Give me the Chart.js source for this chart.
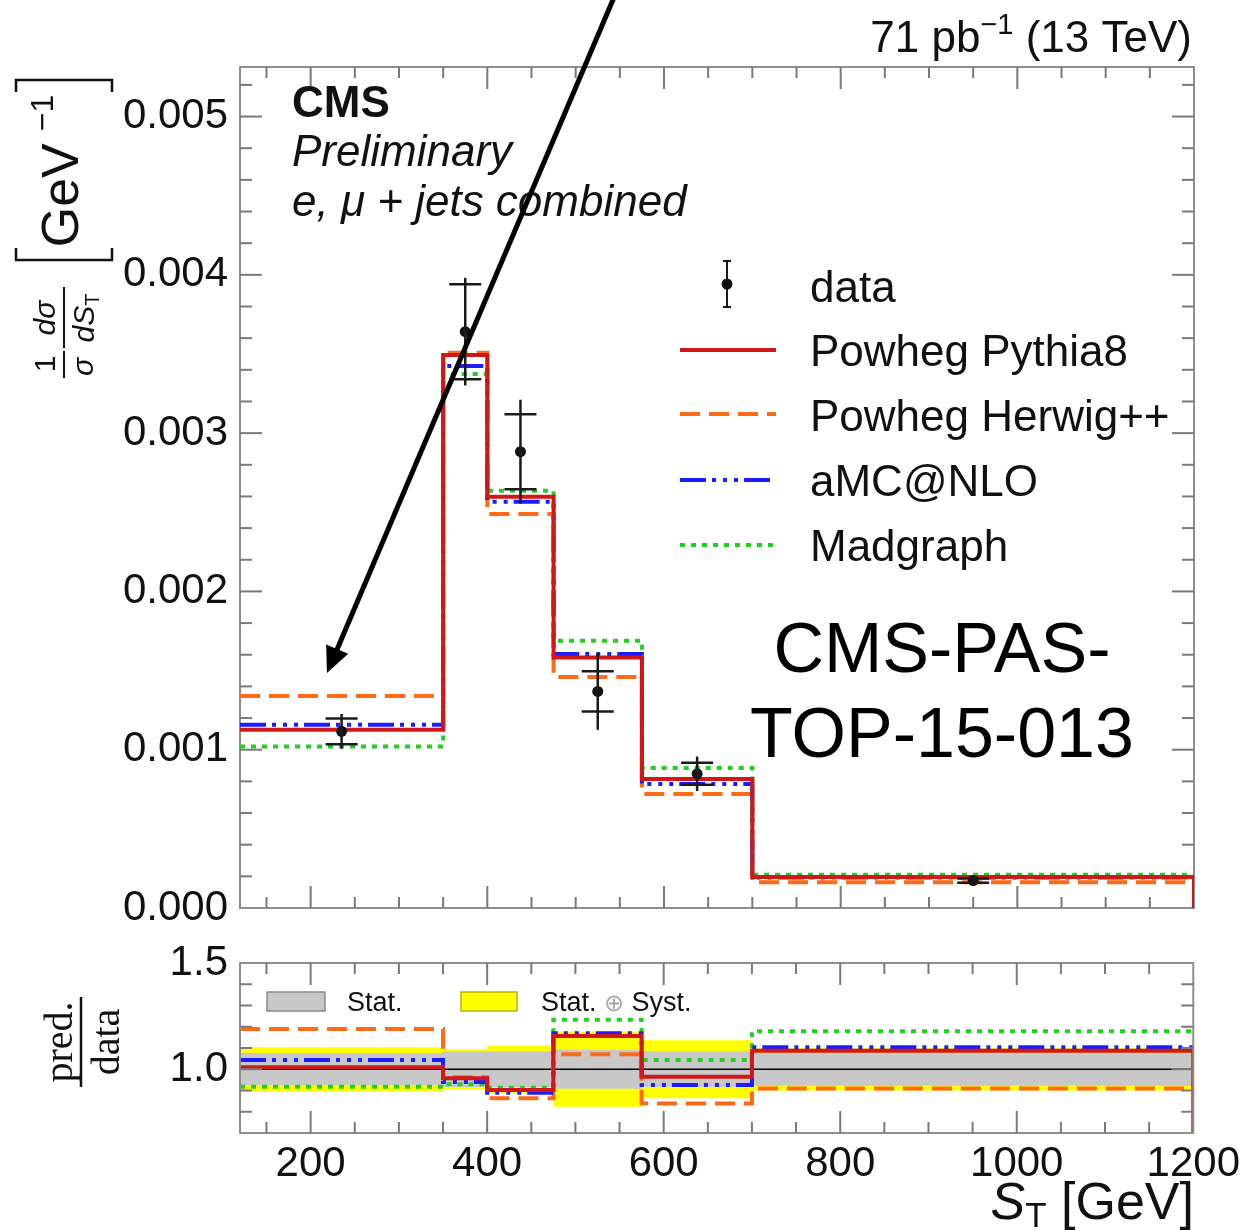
<!DOCTYPE html>
<html>
<head>
<meta charset="utf-8">
<title>CMS S_T normalized differential cross section</title>
<script src="https://cdn.jsdelivr.net/npm/chart.js@4.4.1/dist/chart.umd.min.js"></script>
<style>
  html, body { margin: 0; padding: 0; background: #fff; }
  #wrap { position: relative; width: 1246px; height: 1230px; overflow: hidden; background: #fff; }
  #mainChart { position: absolute; left: 0; top: 0; }
  #ratioChart { position: absolute; left: 0; top: 920px; }
</style>
</head>
<body>
<div id="wrap">
  <canvas id="mainChart" width="1246" height="950"></canvas>
  <canvas id="ratioChart" width="1246" height="310"></canvas>
</div>
<script>
// bins in S_T [GeV]
const binEdges = [120, 350, 400, 475, 575, 700, 1200];
const binCenters = [235, 375, 437.5, 525, 637.5, 950];

// 1/sigma dsigma/dS_T [GeV^-1]
const dataValues = [0.001116, 0.003641, 0.002883, 0.001368, 0.000848, 0.000173];
const dataStat = [0.000081, 0.000300, 0.000237, 0.000127, 0.000070, 0.000014];
const dataTotal = [0.000110, 0.000340, 0.000328, 0.000242, 0.000109, 0.000018];

const powhegPythia8 = [0.001126, 0.003493, 0.002598, 0.001583, 0.000815, 0.000196];
const powhegHerwig = [0.001339, 0.003508, 0.002489, 0.001459, 0.000720, 0.000162];
const amcAtNlo = [0.001158, 0.003424, 0.002567, 0.001604, 0.000783, 0.000192];
const madgraph = [0.001021, 0.003373, 0.002636, 0.001688, 0.000884, 0.000210];

// pred./data
const ratioPythia8 = [1.009, 0.958, 0.902, 1.157, 0.965, 1.087];
const ratioHerwig = [1.190, 0.962, 0.863, 1.071, 0.839, 0.910];
const ratioAmc = [1.044, 0.940, 0.890, 1.170, 0.926, 1.103];
const ratioMadgraph = [0.918, 0.930, 0.913, 1.233, 1.044, 1.179];
const ratioStatErr = [0.077, 0.083, 0.083, 0.092, 0.084, 0.078];
const ratioTotalErr = [0.104, 0.094, 0.111, 0.176, 0.136, 0.100];

const xTickLabels = [200, 400, 600, 800, 1000, 1200];
const yTickLabels = [0, 0.001, 0.002, 0.003, 0.004, 0.005];
const ratioTickLabels = [1.0, 1.5];

const SANS = '"Liberation Sans", Arial, Helvetica, sans-serif';
const SERIF = '"Liberation Serif", "Times New Roman", serif';
const INK = '#111';
const RATIO_TOP = 920; // page offset of the ratio canvas

const RED = '#d01818';
const ORANGE = '#ff6a14';
const BLUE = '#1c1cff';
const GREEN = '#22d022';
const DASH_ORANGE = [20, 9];
const DASH_BLUE = [26, 6, 4, 7, 4, 7, 4, 6];
const DASH_GREEN = [5, 6];

function stepPoints(vals, dropToZero) {
    const pts = vals.map((v, i) => ({ x: binEdges[i], y: v }));
    const last = binEdges[binEdges.length - 1];
    pts.push({ x: last, y: vals[vals.length - 1] });
    if (dropToZero) {
        pts.push({ x: last, y: 0 });
    }
    return pts;
}

function histo(label, vals, color, dash, order, drop) {
    return {
        label: label,
        data: stepPoints(vals, drop),
        stepped: 'before',
        borderColor: color,
        borderWidth: 4,
        borderDash: dash,
        borderCapStyle: 'butt',
        borderJoinStyle: 'miter',
        pointRadius: 0,
        fill: false,
        order: order
    };
}

function band(err, sign, color, order, fillPrev) {
    return {
        data: stepPoints(err.map(e => 1 + sign * e), false),
        stepped: 'before',
        borderColor: 'transparent',
        borderWidth: 0,
        backgroundColor: color,
        pointRadius: 0,
        fill: fillPrev ? '-1' : false,
        order: order
    };
}

function drawRuns(ctx, runs, x, y, align) {
    ctx.textAlign = 'left';
    let w = 0;
    runs.forEach(r => {
        ctx.font = r.font;
        w += ctx.measureText(r.text).width + (r.gap || 0);
    });
    let cx = align === 'right' ? x - w : (align === 'center' ? x - w / 2 : x);
    runs.forEach(r => {
        ctx.font = r.font;
        ctx.fillStyle = r.color || INK;
        ctx.fillText(r.text, cx, y + (r.dy || 0));
        cx += ctx.measureText(r.text).width + (r.gap || 0);
    });
}

function rotated(ctx, X, Y, fn) {
    ctx.save();
    ctx.translate(X, Y);
    ctx.rotate(-Math.PI / 2);
    fn();
    ctx.restore();
}

function seg(ctx, x0, y0, x1, y1) {
    ctx.beginPath();
    ctx.moveTo(x0, y0);
    ctx.lineTo(x1, y1);
    ctx.stroke();
}

// frame with ROOT-like inner ticks on all four sides
function drawFrame(chart, yTicks) {
    const { ctx, chartArea: a, scales: { x, y } } = chart;
    ctx.save();
    ctx.strokeStyle = '#8e8e8e';
    ctx.lineWidth = 2;
    ctx.strokeRect(a.left, a.top, a.right - a.left, a.bottom - a.top);
    ctx.strokeStyle = '#7a7a7a';
    for (let v = 150; v < 1200; v += 50) {
        const len = v % 200 === 0 ? 22 : 11;
        const px = x.getPixelForValue(v);
        seg(ctx, px, a.bottom, px, a.bottom - len);
        seg(ctx, px, a.top, px, a.top + len);
    }
    yTicks.forEach(t => {
        const len = t.major ? 22 : 12;
        const py = y.getPixelForValue(t.v);
        seg(ctx, a.left, py, a.left + len, py);
        seg(ctx, a.right, py, a.right - len, py);
    });
    ctx.restore();
}

const mainYTicks = [];
for (let k = 1; k <= 26; k++) {
    mainYTicks.push({ v: k * 0.0002, major: k % 5 === 0 });
}
const ratioYTicks = [];
for (let k = 8; k <= 14; k++) {
    ratioYTicks.push({ v: k / 10, major: k === 10 });
}

function legendLine(ctx, y, color, dash) {
    ctx.save();
    ctx.strokeStyle = color;
    ctx.lineWidth = 4;
    ctx.lineCap = 'butt';
    ctx.setLineDash(dash);
    seg(ctx, 680, y, 776, y);
    ctx.restore();
}

const mainDecor = {
    id: 'mainDecor',
    beforeDatasetsDraw(chart) {
        drawFrame(chart, mainYTicks);
    },
    afterDatasetsDraw(chart) {
        const { ctx, scales: { x, y } } = chart;
        ctx.save();
        ctx.strokeStyle = '#1a1a1a';
        ctx.lineWidth = 2.5;
        binCenters.forEach((c, i) => {
            const px = x.getPixelForValue(c);
            seg(ctx, px, y.getPixelForValue(dataValues[i] + dataTotal[i]), px, y.getPixelForValue(dataValues[i] - dataTotal[i]));
            [dataValues[i] + dataStat[i], dataValues[i] - dataStat[i]].forEach(v => {
                const py = y.getPixelForValue(v);
                seg(ctx, px - 16, py, px + 16, py);
            });
        });
        ctx.restore();
    },
    afterDraw(chart) {
        const ctx = chart.ctx;
        ctx.save();
        ctx.textBaseline = 'alphabetic';

        // CMS labels
        drawRuns(ctx, [{ text: 'CMS', font: 'bold 44px ' + SANS }], 292, 117, 'left');
        drawRuns(ctx, [{ text: 'Preliminary', font: 'italic 44px ' + SANS }], 292, 166, 'left');
        drawRuns(ctx, [{ text: 'e, \u03bc + jets combined', font: 'italic 44px ' + SANS }], 292, 216, 'left');

        // luminosity
        drawRuns(ctx, [
            { text: '71 pb', font: '44px ' + SANS },
            { text: '\u22121', font: '29px ' + SANS, dy: -18 },
            { text: ' (13 TeV)', font: '44px ' + SANS }
        ], 1192, 52, 'right');

        // y axis title
        rotated(ctx, 78, 171, () => {
            drawRuns(ctx, [
                { text: 'GeV', font: '52px ' + SANS, gap: 12 },
                { text: '\u22121', font: '32px ' + SANS, dy: -25 }
            ], 0, 0, 'center');
        });
        ctx.strokeStyle = INK;
        ctx.lineWidth = 2.5;
        ctx.beginPath();
        ctx.moveTo(16, 92); ctx.lineTo(16, 80); ctx.lineTo(112, 80); ctx.lineTo(112, 92);
        ctx.stroke();
        ctx.beginPath();
        ctx.moveTo(16, 248); ctx.lineTo(16, 260); ctx.lineTo(112, 260); ctx.lineTo(112, 248);
        ctx.stroke();
        rotated(ctx, 55, 364, () => drawRuns(ctx, [{ text: '1', font: '30px ' + SANS }], 0, 0, 'center'));
        rotated(ctx, 93, 367, () => drawRuns(ctx, [{ text: '\u03c3', font: 'italic 30px ' + SANS }], 0, 0, 'center'));
        rotated(ctx, 55, 318, () => drawRuns(ctx, [{ text: 'd\u03c3', font: 'italic 30px ' + SANS }], 0, 0, 'center'));
        rotated(ctx, 94, 318, () => drawRuns(ctx, [
            { text: 'dS', font: 'italic 30px ' + SANS },
            { text: 'T', font: '20px ' + SANS, dy: 5 }
        ], 0, 0, 'center'));
        ctx.lineWidth = 2;
        seg(ctx, 64, 351, 64, 378);
        seg(ctx, 64, 287, 64, 348);

        // legend
        ctx.strokeStyle = '#1a1a1a';
        ctx.lineWidth = 2;
        seg(ctx, 727, 261, 727, 307);
        seg(ctx, 723, 261, 731, 261);
        seg(ctx, 723, 307, 731, 307);
        ctx.fillStyle = INK;
        ctx.beginPath();
        ctx.arc(727, 284, 5.5, 0, 2 * Math.PI);
        ctx.fill();
        legendLine(ctx, 350, RED, []);
        legendLine(ctx, 414, ORANGE, DASH_ORANGE);
        legendLine(ctx, 480, BLUE, DASH_BLUE);
        legendLine(ctx, 545, GREEN, DASH_GREEN);
        const lf = '44px ' + SANS;
        drawRuns(ctx, [{ text: 'data', font: lf }], 810, 302, 'left');
        drawRuns(ctx, [{ text: 'Powheg Pythia8', font: lf }], 810, 366, 'left');
        drawRuns(ctx, [{ text: 'Powheg Herwig++', font: lf }], 810, 431, 'left');
        drawRuns(ctx, [{ text: 'aMC@NLO', font: lf }], 810, 496, 'left');
        drawRuns(ctx, [{ text: 'Madgraph', font: lf }], 810, 561, 'left');

        // note and arrow laid over the figure
        ctx.fillStyle = '#000';
        ctx.font = '70px ' + SANS;
        ctx.textAlign = 'center';
        ctx.fillText('CMS-PAS-', 942, 672);
        ctx.fillText('TOP-15-013', 942, 757);

        const x0 = 615, y0 = -5, x1 = 327, y1 = 673;
        const len = Math.hypot(x1 - x0, y1 - y0);
        const ux = (x1 - x0) / len, uy = (y1 - y0) / len;
        const bx = x1 - ux * 26, by = y1 - uy * 26;
        ctx.strokeStyle = '#000';
        ctx.lineWidth = 5;
        seg(ctx, x0, y0, bx + ux * 2, by + uy * 2);
        ctx.beginPath();
        ctx.moveTo(x1, y1);
        ctx.lineTo(bx - uy * 12, by + ux * 12);
        ctx.lineTo(bx + uy * 12, by - ux * 12);
        ctx.closePath();
        ctx.fill();
        ctx.restore();
    }
};

const ratioDecor = {
    id: 'ratioDecor',
    afterDatasetsDraw(chart) {
        drawFrame(chart, ratioYTicks);
    },
    afterDraw(chart) {
        const ctx = chart.ctx;
        const o = RATIO_TOP;
        ctx.save();
        // band legend
        ctx.lineWidth = 1.5;
        ctx.fillStyle = '#c8c8c8';
        ctx.fillRect(267, 992 - o, 58, 19);
        ctx.strokeStyle = '#8a8a8a';
        ctx.strokeRect(267, 992 - o, 58, 19);
        ctx.fillStyle = '#ffff00';
        ctx.fillRect(461, 992 - o, 56, 19);
        ctx.strokeStyle = '#b5b500';
        ctx.strokeRect(461, 992 - o, 56, 19);
        const sf = '27px ' + SANS;
        drawRuns(ctx, [{ text: 'Stat.', font: sf }], 347, 1011 - o, 'left');
        drawRuns(ctx, [
            { text: 'Stat. ', font: sf },
            { text: '\u2295', font: '24px ' + SANS, color: '#a8a8a8' },
            { text: ' Syst.', font: sf }
        ], 541, 1011 - o, 'left');

        // y title pred./data
        rotated(ctx, 72, 1042 - o, () => drawRuns(ctx, [{ text: 'pred.', font: '40px ' + SERIF }], 0, 0, 'center'));
        rotated(ctx, 119, 1042 - o, () => drawRuns(ctx, [{ text: 'data', font: '40px ' + SERIF }], 0, 0, 'center'));
        ctx.strokeStyle = INK;
        ctx.lineWidth = 2.5;
        seg(ctx, 81, 997 - o, 81, 1087 - o);

        // x title
        drawRuns(ctx, [
            { text: 'S', font: 'italic 52px ' + SANS },
            { text: 'T', font: '35px ' + SANS, dy: 8 },
            { text: ' [GeV]', font: '52px ' + SANS }
        ], 1194, 1219 - o, 'right');
        ctx.restore();
    }
};

const tickFont = { family: SANS, size: 42 };

new Chart(document.getElementById('mainChart'), {
    type: 'line',
    data: {
        datasets: [
            {
                label: 'data',
                data: binCenters.map((c, i) => ({ x: c, y: dataValues[i] })),
                showLine: false,
                pointRadius: 5.5,
                pointBackgroundColor: INK,
                pointBorderWidth: 0,
                order: 0
            },
            histo('Powheg Pythia8', powhegPythia8, RED, [], 1, true),
            histo('aMC@NLO', amcAtNlo, BLUE, DASH_BLUE, 2, false),
            histo('Madgraph', madgraph, GREEN, DASH_GREEN, 3, false),
            histo('Powheg Herwig++', powhegHerwig, ORANGE, DASH_ORANGE, 4, false)
        ]
    },
    options: {
        responsive: false,
        animation: false,
        devicePixelRatio: 1,
        layout: { padding: { top: 67, right: 52, bottom: 42, left: 0 } },
        plugins: { legend: { display: false }, tooltip: { enabled: false } },
        scales: {
            x: { type: 'linear', min: 120, max: 1200, display: false },
            y: {
                type: 'linear',
                min: 0,
                max: 0.005313,
                afterFit: s => { s.width = 240; },
                afterBuildTicks: a => { a.ticks = yTickLabels.map(v => ({ value: v })); },
                grid: { display: false, drawTicks: false },
                border: { display: false },
                ticks: { font: tickFont, color: INK, padding: 12, callback: v => v.toFixed(3) }
            }
        }
    },
    plugins: [mainDecor]
});

new Chart(document.getElementById('ratioChart'), {
    type: 'line',
    data: {
        datasets: [
            histo('Powheg Pythia8', ratioPythia8, RED, [], 1, true),
            histo('aMC@NLO', ratioAmc, BLUE, DASH_BLUE, 2, false),
            histo('Madgraph', ratioMadgraph, GREEN, DASH_GREEN, 3, false),
            histo('Powheg Herwig++', ratioHerwig, ORANGE, DASH_ORANGE, 4, false),
            {
                data: [{ x: 120, y: 1 }, { x: 1200, y: 1 }],
                borderColor: '#000',
                borderWidth: 1.5,
                pointRadius: 0,
                fill: false,
                order: 10
            },
            band(ratioStatErr, 1, '#c8c8c8', 20, false),
            band(ratioStatErr, -1, '#c8c8c8', 20, true),
            band(ratioTotalErr, 1, '#ffff00', 30, false),
            band(ratioTotalErr, -1, '#ffff00', 30, true)
        ]
    },
    options: {
        responsive: false,
        animation: false,
        devicePixelRatio: 1,
        layout: { padding: { top: 43, right: 52, bottom: 0, left: 0 } },
        plugins: { legend: { display: false }, tooltip: { enabled: false } },
        scales: {
            x: {
                type: 'linear',
                min: 120,
                max: 1200,
                afterFit: s => { s.height = 97; },
                afterBuildTicks: a => { a.ticks = xTickLabels.map(v => ({ value: v })); },
                grid: { display: false, drawTicks: false },
                border: { display: false },
                ticks: { font: tickFont, color: INK, padding: 6, autoSkip: false, maxRotation: 0, callback: v => String(v) }
            },
            y: {
                type: 'linear',
                min: 0.7,
                max: 1.5,
                afterFit: s => { s.width = 240; },
                afterBuildTicks: a => { a.ticks = ratioTickLabels.map(v => ({ value: v })); },
                grid: { display: false, drawTicks: false },
                border: { display: false },
                ticks: { font: tickFont, color: INK, padding: 12, callback: v => v.toFixed(1) }
            }
        }
    },
    plugins: [ratioDecor]
});
</script>
</body>
</html>
